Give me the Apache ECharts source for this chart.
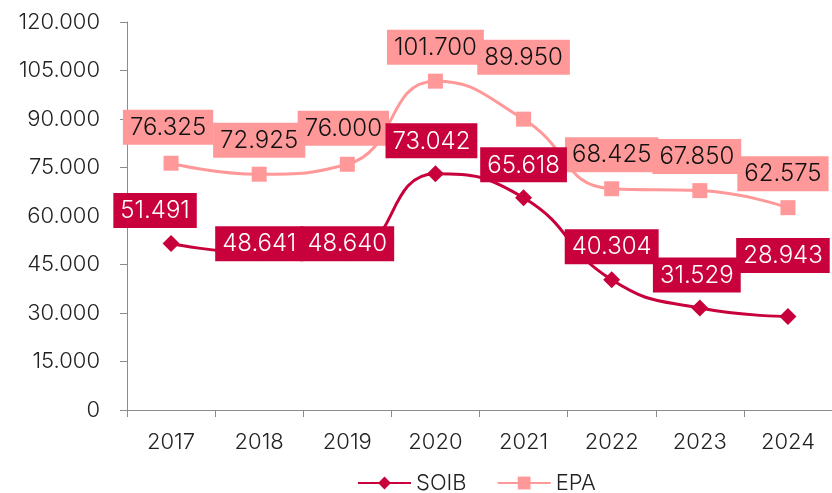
<!DOCTYPE html>
<html>
<head>
<meta charset="utf-8">
<script src="https://cdn.jsdelivr.net/npm/echarts@6/dist/echarts.min.js"></script>
<style>
  html, body { margin: 0; padding: 0; background: #fff; }
  #chart { width: 832px; height: 493px; }
</style>
</head>
<body>
<div id="chart"></div>
<script>
// datos del gráfico
var years = ["2017", "2018", "2019", "2020", "2021", "2022", "2023", "2024"];
var soib = [51491, 48641, 48640, 73042, 65618, 40304, 31529, 28943];
var epa = [76325, 72925, 76000, 101700, 89950, 68425, 67850, 62575];
var yTicks = [0, 15000, 30000, 45000, 60000, 75000, 90000, 105000, 120000];

// desplazamiento de etiquetas (como en el original)
var soibOffsets = [[-16, 2], [0, 26], [0, 26], [-4, 2], [0, 2], [0, 2], [-3, 2], [-5, -26]];
var epaOffsets = [[-3, -2], [0, 0], [-4, -2], [0, 0], [0, -28], [0, 0], [-3, 0], [-5, 0]];

function miles(v) {
  return String(v).replace(/\B(?=(\d{3})+(?!\d))/g, ".");
}

var fuente = "Inter";
var peso = 300;
var rojo = "#C8003C";
var rosa = "#FF9999";

function armarDatos(valores, offsets) {
  return valores.map(function (v, i) {
    return { value: v, label: { offset: offsets[i] } };
  });
}

var myChart = echarts.init(document.getElementById("chart"));

var option = {
  animation: false,
  grid: { left: 127, right: 0, top: 22, bottom: 83 },
  xAxis: {
    type: "category",
    data: years,
    axisLine: { lineStyle: { color: "#8c8c8c", width: 1 } },
    axisTick: { show: true, length: 7, lineStyle: { color: "#8c8c8c" } },
    axisLabel: { color: "#222", fontFamily: fuente, fontWeight: peso, fontSize: 22, margin: 21 }
  },
  yAxis: {
    type: "value",
    min: yTicks[0],
    max: yTicks[yTicks.length - 1],
    interval: yTicks[1] - yTicks[0],
    splitLine: { show: false },
    axisLine: { show: true, lineStyle: { color: "#8c8c8c", width: 1 } },
    axisTick: { show: true, length: 7, lineStyle: { color: "#8c8c8c" } },
    axisLabel: {
      color: "#222",
      fontFamily: fuente,
      fontWeight: peso,
      fontSize: 22,
      margin: 27,
      formatter: function (v) { return miles(v); }
    }
  },
  legend: {
    top: 467,
    left: 352,
    itemWidth: 53,
    itemHeight: 16,
    itemGap: 30,
    textStyle: { color: "#222", fontFamily: fuente, fontWeight: peso, fontSize: 22, padding: [0, 0, 0, 0] },
    data: ["SOIB", "EPA"]
  },
  series: [
    {
      name: "SOIB",
      type: "line",
      smooth: true,
      data: armarDatos(soib, soibOffsets),
      symbol: "diamond",
      symbolSize: 17,
      itemStyle: { color: rojo },
      lineStyle: { color: rojo, width: 3 },
      label: {
        show: true,
        position: "top",
        distance: 9,
        color: "#fff",
        fontFamily: fuente,
        fontWeight: peso,
        fontSize: 24,
        backgroundColor: rojo,
        padding: [6, 7, 5, 7],
        formatter: function (p) { return miles(p.value); }
      },
      z: 3
    },
    {
      name: "EPA",
      type: "line",
      smooth: true,
      data: armarDatos(epa, epaOffsets),
      symbol: "rect",
      symbolSize: 15,
      itemStyle: { color: rosa },
      lineStyle: { color: rosa, width: 3 },
      label: {
        show: true,
        position: "top",
        distance: 9,
        color: "#111",
        fontFamily: fuente,
        fontWeight: peso,
        fontSize: 24,
        backgroundColor: rosa,
        padding: [6, 7, 5, 7],
        formatter: function (p) { return miles(p.value); }
      },
      z: 2
    }
  ]
};

myChart.setOption(option);
</script>
</body>
</html>
